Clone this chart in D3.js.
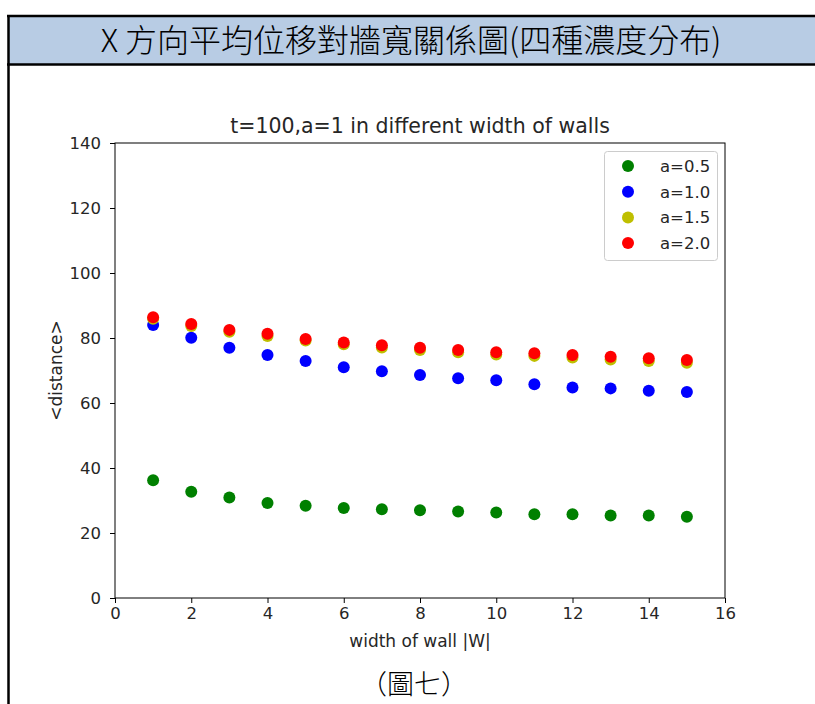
<!DOCTYPE html>
<html>
<head>
<meta charset="utf-8">
<script src="https://cdn.jsdelivr.net/npm/d3@7"></script>
<style>
  body { margin: 0; background: #fff; }
</style>
</head>
<body>
<div id="chart"></div>
<script>
// values
var widths = [1, 2, 3, 4, 5, 6, 7, 8, 9, 10, 11, 12, 13, 14, 15]
var seriesNames = ["a=0.5", "a=1.0", "a=1.5", "a=2.0"]
var seriesColors = ["#008000", "#0000ff", "#bfbf00", "#ff0000"]
var a05 = [36.2, 32.7, 30.9, 29.2, 28.4, 27.7, 27.3, 27.0, 26.6, 26.3, 25.8, 25.8, 25.4, 25.4, 25.0]
var a10 = [84.0, 80.1, 77.0, 74.8, 72.9, 71.0, 69.8, 68.6, 67.6, 67.0, 65.8, 64.8, 64.5, 63.8, 63.4]
var a15 = [85.9, 83.7, 81.9, 80.6, 79.2, 78.1, 77.1, 76.3, 75.6, 74.9, 74.5, 74.0, 73.4, 72.9, 72.4]
var a20 = [86.4, 84.3, 82.5, 81.3, 79.7, 78.6, 77.8, 77.0, 76.3, 75.6, 75.3, 74.8, 74.2, 73.8, 73.2]
var xTicks = [0, 2, 4, 6, 8, 10, 12, 14, 16]
var yTicks = [0, 20, 40, 60, 80, 100, 120, 140]

var W = 815, H = 704
var svg = d3.select("#chart").append("svg")
    .attr("width", W)
    .attr("height", H)

// document frame with the blue heading band
svg.append("rect")
    .attr("x", 8).attr("y", 16)
    .attr("width", W).attr("height", 48)
    .style("fill", "#b8cce4")
svg.append("line").attr("x1", 7).attr("x2", W).attr("y1", 16).attr("y2", 16)
    .style("stroke", "#000").style("stroke-width", 2.5)
svg.append("line").attr("x1", 7).attr("x2", W).attr("y1", 64.5).attr("y2", 64.5)
    .style("stroke", "#000").style("stroke-width", 2.5)
svg.append("line").attr("x1", 8.5).attr("x2", 8.5).attr("y1", 15).attr("y2", H)
    .style("stroke", "#000").style("stroke-width", 2.5)

svg.append("text")
    .attr("x", 411).attr("y", 52)
    .attr("text-anchor", "middle")
    .style("font", "300 32px 'Noto Sans CJK TC'")
    .style("fill", "#000")
    .text("X 方向平均位移對牆寬關係圖(四種濃度分布)")

svg.append("text")
    .attr("x", 414).attr("y", 694)
    .attr("text-anchor", "middle")
    .style("font", "300 27px 'Noto Sans CJK TC'")
    .style("fill", "#000")
    .text("（圖七）")

// plot area
var margin = { left: 115, top: 143, right: 725, bottom: 598 }
var x = d3.scaleLinear().domain([0, 16]).range([margin.left, margin.right])
var y = d3.scaleLinear().domain([0, 140]).range([margin.bottom, margin.top])

var g = svg.append("g")

var xAxis = d3.axisBottom(x).tickValues(xTicks).tickSize(5).tickPadding(4)
var yAxis = d3.axisLeft(y).tickValues(yTicks).tickSize(5).tickPadding(9)

g.append("g")
    .attr("transform", "translate(0," + margin.bottom + ")")
    .call(xAxis)
g.append("g")
    .attr("transform", "translate(" + margin.left + ",0)")
    .call(yAxis)

g.selectAll(".domain").remove()
g.selectAll(".tick line").style("stroke", "#000").style("stroke-width", 1)
g.selectAll(".tick text")
    .style("font", "16.5px 'DejaVu Sans'")
    .style("fill", "#262626")

g.append("rect")
    .attr("x", margin.left).attr("y", margin.top)
    .attr("width", margin.right - margin.left)
    .attr("height", margin.bottom - margin.top)
    .style("fill", "none").style("stroke", "#000").style("stroke-width", 1)

svg.append("text")
    .attr("x", (margin.left + margin.right) / 2).attr("y", 133)
    .attr("text-anchor", "middle")
    .style("font", "20.5px 'DejaVu Sans'")
    .style("fill", "#262626")
    .text("t=100,a=1 in different width of walls")

svg.append("text")
    .attr("x", (margin.left + margin.right) / 2).attr("y", 647)
    .attr("text-anchor", "middle")
    .style("font", "17px 'DejaVu Sans'")
    .style("fill", "#262626")
    .text("width of wall |W|")

svg.append("text")
    .attr("transform", "translate(62," + ((margin.top + margin.bottom) / 2) + ") rotate(-90)")
    .attr("text-anchor", "middle")
    .style("font", "17px 'DejaVu Sans'")
    .style("fill", "#262626")
    .text("<distance>")

// scatter points
var allSeries = [a05, a10, a15, a20]
allSeries.forEach(function (vals, si) {
    g.append("g").selectAll("circle")
        .data(vals)
        .enter()
        .append("circle")
        .attr("cx", function (d, i) { return x(widths[i]) })
        .attr("cy", function (d) { return y(d) })
        .attr("r", 6)
        .style("fill", seriesColors[si])
})

// legend
var legend = svg.append("g")
legend.append("rect")
    .attr("x", 604.5).attr("y", 151.5)
    .attr("width", 113).attr("height", 109)
    .attr("rx", 3)
    .style("fill", "#fff").style("stroke", "#ccc").style("stroke-width", 1)
seriesNames.forEach(function (name, i) {
    var ly = 166 + i * 25.7
    legend.append("circle")
        .attr("cx", 628).attr("cy", ly)
        .attr("r", 6)
        .style("fill", seriesColors[i])
    legend.append("text")
        .attr("x", 660).attr("y", ly + 6)
        .style("font", "16.5px 'DejaVu Sans'")
        .style("fill", "#262626")
        .text(name)
})
</script>
</body>
</html>
